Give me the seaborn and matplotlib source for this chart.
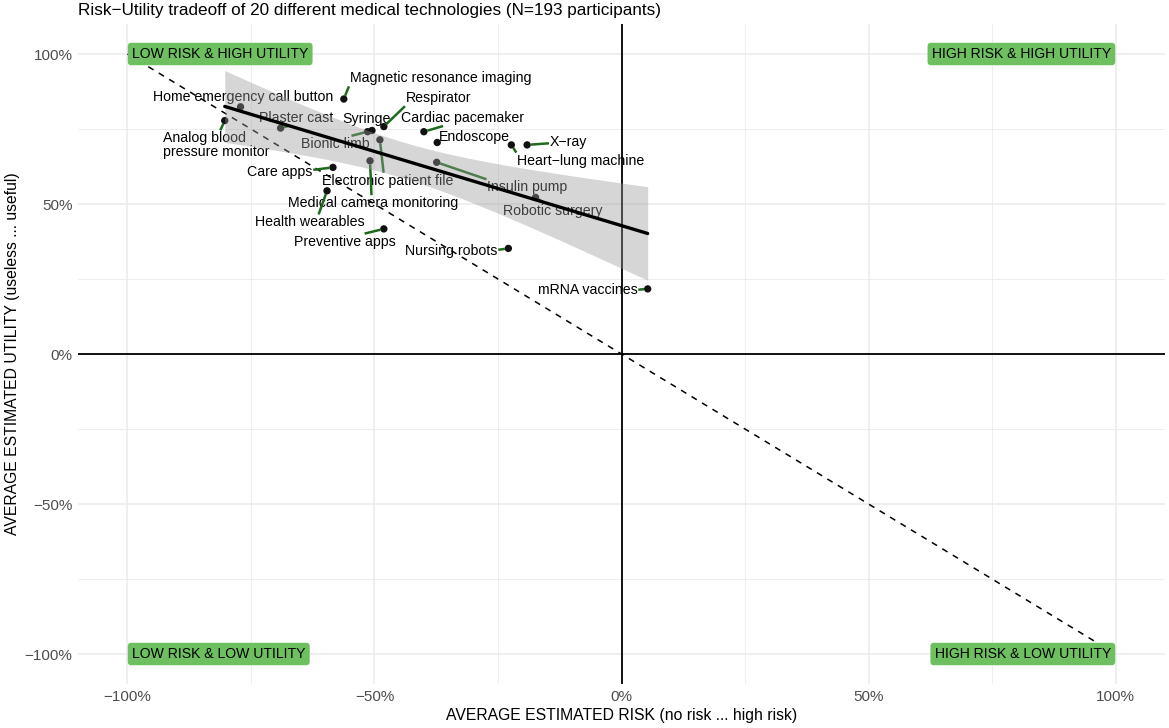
import matplotlib
matplotlib.use("Agg")
import matplotlib.pyplot as plt
import matplotlib.transforms as mtransforms
import seaborn as sns
import pandas as pd
import numpy as np

# ---- data ----
technologies = [
    "Home emergency call button", "Analog blood\npressure monitor", "Plaster cast",
    "Care apps", "Health wearables", "Syringe", "Bionic limb", "Respirator",
    "Magnetic resonance imaging", "Cardiac pacemaker", "Endoscope",
    "Heart\u2212lung machine", "X\u2212ray", "Insulin pump", "Robotic surgery",
    "Nursing robots", "mRNA vaccines", "Preventive apps",
    "Electronic patient file", "Medical camera monitoring",
]
risk = [-0.771, -0.803, -0.690, -0.584, -0.596, -0.505, -0.514, -0.481,
        -0.562, -0.400, -0.373, -0.223, -0.191, -0.374, -0.174,
        -0.229, 0.053, -0.481, -0.489, -0.509]
utility = [0.824, 0.778, 0.753, 0.622, 0.544, 0.745, 0.741, 0.758,
           0.850, 0.741, 0.705, 0.697, 0.697, 0.639, 0.522,
           0.352, 0.217, 0.417, 0.714, 0.644]

# label placement (layout, data coords of label centres)
label_x = [-0.766, -0.821, -0.659, -0.692, -0.630, -0.516, -0.579, -0.370,
           -0.366, -0.322, -0.297, -0.082, -0.107, -0.190, -0.140,
           -0.345, -0.069, -0.559, -0.474, -0.503]
label_y = [0.863, 0.702, 0.792, 0.611, 0.444, 0.789, 0.706, 0.858,
           0.924, 0.792, 0.730, 0.650, 0.713, 0.561, 0.483,
           0.348, 0.217, 0.380, 0.583, 0.508]

tick_vals = [-1.0, -0.5, 0.0, 0.5, 1.0]
tick_labels = ["\u2212100%", "\u221250%", "0%", "50%", "100%"]
minor_vals = [-0.75, -0.25, 0.25, 0.75]

corner_text = ["LOW RISK & HIGH UTILITY", "HIGH RISK & HIGH UTILITY",
               "LOW RISK & LOW UTILITY", "HIGH RISK & LOW UTILITY"]
corner_x = [-1, 1, -1, 1]
corner_y = [1, 1, -1, -1]

df = pd.DataFrame({"tech": technologies, "risk": risk, "utility": utility})

# ---- style ----
sns.set_theme(style="white")
plt.rcParams["font.family"] = ["Liberation Sans", "DejaVu Sans"]

fig = plt.figure(figsize=(11.69, 7.28), dpi=100)
ax = fig.add_axes([78/1169, 1-684/728, (1165-78)/1169, (684-24)/728])
ax.set_xlim(-1.1, 1.1)
ax.set_ylim(-1.1, 1.1)

# grid
for v in tick_vals:
    ax.axvline(v, color="#ebebeb", lw=1.1, zorder=0)
    ax.axhline(v, color="#ebebeb", lw=1.1, zorder=0)
for v in minor_vals:
    ax.axvline(v, color="#ebebeb", lw=0.6, zorder=0)
    ax.axhline(v, color="#ebebeb", lw=0.6, zorder=0)
for s in ax.spines.values():
    s.set_visible(False)

# zero lines
ax.axhline(0, color="black", lw=1.3, zorder=1)
ax.axvline(0, color="black", lw=1.3, zorder=1)
# diagonal
ax.plot([-1, 1], [1, -1], color="black", lw=1.1, ls=(0, (4, 4)), zorder=1)

# points
sns.scatterplot(data=df, x="risk", y="utility", color="#111111", s=28,
                edgecolor="none", ax=ax, zorder=2, legend=False)

# labels
txt_tr = mtransforms.offset_copy(ax.transData, fig=fig, x=0, y=-1.6, units="dots")
texts = []
for i, t in enumerate(technologies):
    texts.append(ax.text(label_x[i], label_y[i], t, transform=txt_tr,
                         ha="center", va="center", multialignment="left",
                         fontsize=10.2, color="black", zorder=3, linespacing=0.95))

# regression line (seaborn) + analytic 95% confidence band
sns.regplot(data=df, x="risk", y="utility", scatter=False, ci=None,
            color="black", line_kws=dict(lw=2.4, zorder=5), ax=ax, truncate=True)
xa = np.asarray(risk)
ya = np.asarray(utility)
n = len(xa)
b1, b0 = np.polyfit(xa, ya, 1)
resid = ya - (b0 + b1 * xa)
s_err = np.sqrt(np.sum(resid ** 2) / (n - 2))
grid = np.linspace(xa.min(), xa.max(), 100)
se = s_err * np.sqrt(1 / n + (grid - xa.mean()) ** 2 / np.sum((xa - xa.mean()) ** 2))
t_crit = 2.1009  # t(0.975, df=18)
fit = b0 + b1 * grid
ax.fill_between(grid, fit - t_crit * se, fit + t_crit * se, color="#999999",
                alpha=0.4, lw=0, zorder=4)

# repel-style connector segments
fig.canvas.draw()
renderer = fig.canvas.get_renderer()
inv = ax.transData.inverted()


def anchor(pv, lo, hi):
    if pv < lo:
        return lo
    if pv > hi:
        return hi
    return (pv + (lo + hi) / 2) / 2


for i, t in enumerate(texts):
    bb = t.get_window_extent(renderer)
    x0, x1 = bb.x0 - 1.0, bb.x1 + 1.0
    y0, y1 = bb.y0 - 1.0, bb.y1 + 1.0
    p = ax.transData.transform((risk[i], utility[i]))
    qx = anchor(p[0], x0, x1)
    qy = anchor(p[1], y0, y1)
    if x0 <= p[0] <= x1:
        qy = y0 if p[1] < y0 else y1
    elif y0 <= p[1] <= y1:
        qx = x0 if p[0] < x0 else x1
    q = np.array([qx, qy])
    v = q - p
    d = np.hypot(*v)
    if d <= 6.0:
        continue
    start = p + v / d * 3.5
    a = inv.transform(start)
    b = inv.transform(q)
    ax.plot([a[0], b[0]], [a[1], b[1]], color="#1e6b1e", lw=1.8,
            solid_capstyle="butt", zorder=3)

# corner boxes
for txt, cx, cy in zip(corner_text, corner_x, corner_y):
    off = 3.3 if cx < 0 else -3.3
    ax.annotate(txt, xy=(cx, cy), xytext=(off, 0), textcoords="offset points",
                ha="left" if cx < 0 else "right", va="center",
                fontsize=10.1, color="black", zorder=6,
                bbox=dict(boxstyle="round,pad=0.3,rounding_size=0.25",
                          fc="#6dbf60", ec="none"))

ax.set_xticks(tick_vals)
ax.set_xticklabels(tick_labels)
ax.set_yticks(tick_vals)
ax.set_yticklabels(tick_labels)
ax.tick_params(axis="both", length=0, labelsize=11, colors="#4d4d4d", pad=4)
ax.set_xlabel("AVERAGE ESTIMATED RISK (no risk ... high risk)", fontsize=11.3,
              color="black", labelpad=3)
ax.set_ylabel("AVERAGE ESTIMATED UTILITY (useless ... useful)", fontsize=11.3,
              color="black", labelpad=3)

fig.text(78/1169, 1-11/728,
         "Risk\u2212Utility tradeoff of 20 different medical technologies (N=193 participants)",
         ha="left", va="center", fontsize=12.3, color="black")

fig.savefig("out.png", dpi=100)
